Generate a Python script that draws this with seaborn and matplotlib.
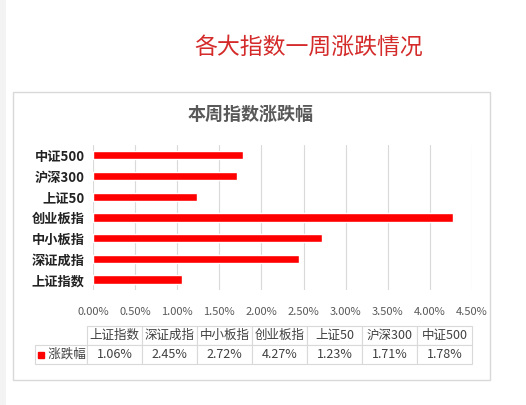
import matplotlib
matplotlib.use("Agg")
import matplotlib.pyplot as plt
from matplotlib.patches import Rectangle
import seaborn as sns
import pandas as pd

# data (table order, left to right)
indices = ["上证指数", "深证成指", "中小板指", "创业板指", "上证50", "沪深300", "中证500"]
changes = [1.06, 2.45, 2.72, 4.27, 1.23, 1.71, 1.78]
series_name = "涨跌幅"
x_ticks = [0, 0.5, 1.0, 1.5, 2.0, 2.5, 3.0, 3.5, 4.0, 4.5]

df = pd.DataFrame({"index": indices, "change": changes})

sns.set_style("white")
plt.rcParams["font.family"] = ["Noto Sans CJK SC", "DejaVu Sans"]

W, H = 526, 405
fig = plt.figure(figsize=(W / 100, H / 100), dpi=100)

# faint strip on the left edge and the chart frame
fig.patches.append(Rectangle((0, 0), 6 / W, 1, transform=fig.transFigure,
                             facecolor="#f3f3f3", edgecolor="none", zorder=-5))
fig.patches.append(Rectangle((12.5 / W, 1 - 380 / H), 477 / W, 288 / H,
                             transform=fig.transFigure, facecolor="white",
                             edgecolor="#d9d9d9", linewidth=1, zorder=-5))

fig.text(309 / W, 1 - 47 / H, "各大指数一周涨跌情况", color="#d42a2a",
         fontsize=16.5, fontweight="light", ha="center", va="center")
fig.text(251 / W, 1 - 114 / H, "本周指数涨跌幅", color="#595959",
         fontsize=13, fontweight="bold", ha="center", va="center")

ax = fig.add_axes([93 / W, 1 - 290 / H, 379 / W, 145 / H])
ax.patch.set_alpha(0)
sns.barplot(data=df, x="change", y="index", order=indices[::-1],
            color="#ff0000", saturation=1, width=0.4, ax=ax)
ax.set_xlim(0, 4.5)
ax.set_xticks(x_ticks)
ax.set_xticklabels([f"{t:.2f}%" for t in x_ticks])
ax.tick_params(axis="x", labelsize=8, colors="#595959", length=0, pad=12)
ax.tick_params(axis="y", labelsize=9.5, length=0, pad=6)
for lab in ax.get_yticklabels():
    lab.set_fontweight("bold")
    lab.set_color("#222222")
ax.grid(axis="x", color="#d9d9d9", linewidth=0.8)
ax.set_axisbelow(True)
for s in ax.spines.values():
    s.set_visible(False)
ax.set_xlabel("")
ax.set_ylabel("")

# data table under the chart (first column holds the series name)
tax = fig.add_axes([35 / W, 1 - 364 / H, 437 / W, 38 / H])
tax.axis("off")
col_w = [52 / 437] + [55 / 437] * len(indices)
tbl = tax.table(cellText=[["   " + series_name] + [f"{v:.2f}%" for v in changes]],
                colLabels=[""] + indices, colWidths=col_w,
                cellLoc="center", bbox=[0, 0, 1, 1])
tbl.auto_set_font_size(False)
tbl.set_fontsize(9)
for (r, c), cell in tbl.get_celld().items():
    cell.set_edgecolor("#d9d9d9")
    cell.set_linewidth(0.8)
    cell.get_text().set_color("#404040")
    if r == 0 and c == 0:
        cell.visible_edges = ""
    if r == 1 and c == 0:
        cell.get_text().set_horizontalalignment("left")
        cell._loc = "left"
tax.plot([6 / 437], [0.25], marker="s", color="#ff0000", markersize=5,
         transform=tax.transAxes, clip_on=False)

fig.savefig("out.png", dpi=100)
